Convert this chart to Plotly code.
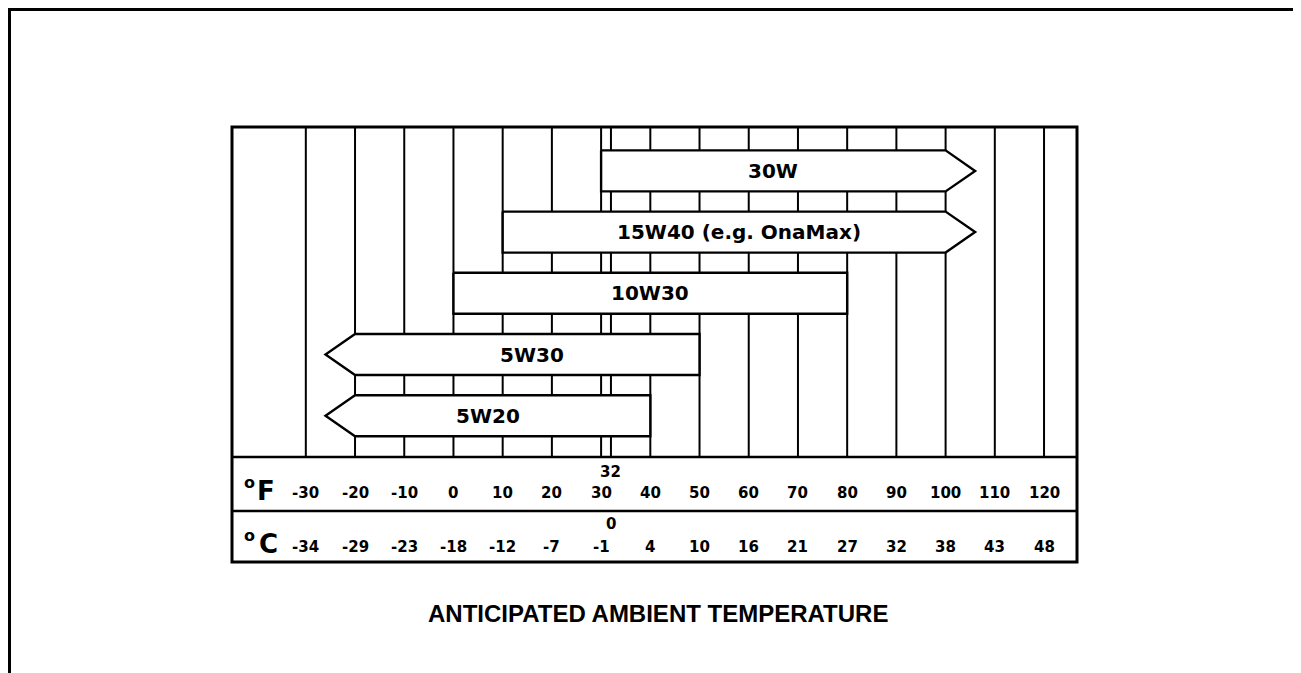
import plotly.graph_objects as go

# ---------------- data ----------------
oil_names = ["30W", "15W40 (e.g. OnaMax)", "10W30", "5W30", "5W20"]
low_f = [30, 10, 0, -20, -20]
high_f = [100, 100, 80, 50, 40]
arrow_low = [False, False, False, True, True]
arrow_high = [True, True, False, False, False]
label_f = [65, 58, 40, 16, 7]

f_ticks = [-30, -20, -10, 0, 10, 20, 30, 40, 50, 60, 70, 80, 90, 100, 110, 120]
c_labels = ["-34", "-29", "-23", "-18", "-12", "-7", "-1", "4", "10", "16", "21", "27", "32", "38", "43", "48"]
freeze_f = 32
freeze_c = "0"
title_text = "ANTICIPATED AMBIENT TEMPERATURE"

# ---------------- layout constants ----------------
FONT = "DejaVu Sans, Liberation Sans, sans-serif"
TFONT = "Liberation Sans, Arial, sans-serif"
TIP = 6.0          # arrow tip length in °F
HALF = 0.335       # half bar height in row units
Y_TOP, Y_BOT = -0.717, 6.390
TABLE_TOP = 4.675
TABLE_MID = 5.557
ROW_F = 5.26
ROW_C = 6.137
ROW_F_EXTRA = 4.913
ROW_C_EXTRA = 5.769

OFF = 8  # page body margin
W, H = 1301 - OFF, 673 - OFF
l, t = 232 - OFF, 127 - OFF
pw, ph = 845, 435
r = W - l - pw
b = H - t - ph

def px(xp):  # page x -> paper
    return (xp - 232) / pw
def py(yp):  # page y -> paper
    return (562 - yp) / ph

fig = go.Figure()

# bars / arrows
for i, name in enumerate(oil_names):
    lo, hi = low_f[i], high_f[i]
    xs, ys = [lo, hi], [i - HALF, i - HALF]
    if arrow_high[i]:
        xs.append(hi + TIP); ys.append(i)
    xs += [hi, lo]; ys += [i + HALF, i + HALF]
    if arrow_low[i]:
        xs.append(lo - TIP); ys.append(i)
    xs.append(lo); ys.append(i - HALF)
    fig.add_trace(go.Scatter(
        x=xs, y=ys, mode="lines", fill="toself", fillcolor="white",
        line=dict(color="black", width=2.4), hoverinfo="skip", showlegend=False))
    fig.add_annotation(x=label_f[i], y=i, text=name, showarrow=False,
                       xanchor="center", yanchor="middle",
                       font=dict(family=FONT, size=20, color="black", weight="bold"))

shapes = []
# vertical grid lines (above the table)
for f in f_ticks + [freeze_f]:
    shapes.append(dict(type="line", xref="x", yref="y", x0=f, x1=f, y0=Y_TOP, y1=TABLE_TOP,
                       line=dict(color="black", width=2), layer="below"))
# table lines
for yv in [TABLE_TOP, TABLE_MID]:
    shapes.append(dict(type="line", xref="paper", yref="y", x0=0, x1=1, y0=yv, y1=yv,
                       line=dict(color="black", width=2.4)))
# chart box
shapes.append(dict(type="rect", xref="paper", yref="paper", x0=0, x1=1, y0=0, y1=1,
                   line=dict(color="black", width=3)))
# outer frame (open at bottom)
shapes.append(dict(type="path", xref="paper", yref="paper",
                   path=f"M {px(9.5)},{py(700)} L {px(9.5)},{py(9.5)} L {px(1298)},{py(9.5)} L {px(1298)},{py(700)}",
                   line=dict(color="black", width=3)))

# table labels
tick_font = dict(family=FONT, size=15, color="black", weight="bold")
def ann(**kw):
    fig.add_annotation(showarrow=False, xanchor="center", yanchor="middle", **kw)

for f, c in zip(f_ticks, c_labels):
    ann(x=f, y=ROW_F, text=str(f), font=tick_font)
    ann(x=f, y=ROW_C, text=c, font=tick_font)
ann(x=freeze_f, y=ROW_F_EXTRA, text=str(freeze_f), font=tick_font)
ann(x=freeze_f, y=ROW_C_EXTRA, text=freeze_c, font=tick_font)

# unit labels
big = dict(family=FONT, size=26, color="black", weight="bold")
small = dict(family=FONT, size=16, color="black", weight="bold")
ann(xref="paper", yref="paper", x=px(249.5), y=py(482), text="o", font=small)
ann(xref="paper", yref="paper", x=px(265.5), y=py(490.5), text="F", font=big)
ann(xref="paper", yref="paper", x=px(249.5), y=py(535), text="o", font=small)
ann(xref="paper", yref="paper", x=px(268.5), y=py(544), text="C", font=big)

# title
ann(xref="paper", yref="paper", x=px(658), y=py(613), text=title_text,
    font=dict(family=TFONT, size=24, color="black", weight="bold"))

fig.update_layout(
    width=W, height=H,
    margin=dict(l=l, r=r, t=t, b=b, pad=0),
    paper_bgcolor="white", plot_bgcolor="white",
    xaxis=dict(range=[-45, 126.7], visible=False, fixedrange=True),
    yaxis=dict(range=[Y_BOT, Y_TOP], visible=False, fixedrange=True),
    shapes=shapes,
    showlegend=False,
)

fig.write_html("out.html", config={"displayModeBar": False})
